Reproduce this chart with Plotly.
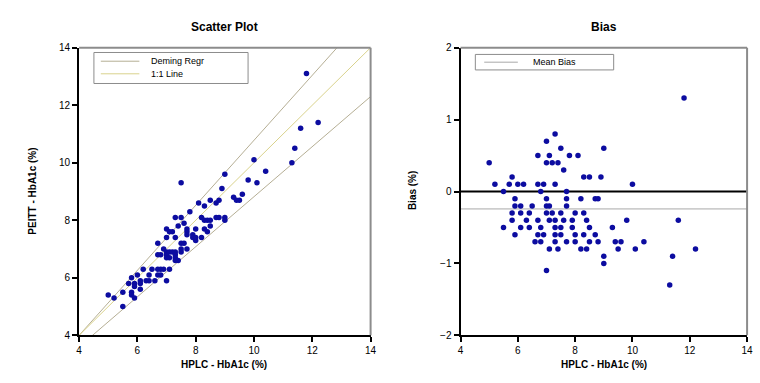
import numpy as np
import plotly.graph_objects as go

# ---- data ----
hplc = [11.8, 7.3, 7.0, 7.5, 9.0, 6.7, 7.1, 7.8, 8.1, 5.0, 7.0, 7.2, 7.4, 7.6,
        5.8, 8.3, 8.5, 8.9, 5.2, 5.7, 6.0, 6.2, 6.7, 6.9, 7.3, 10.0, 5.5, 6.8,
        7.7, 5.9, 7.0, 7.7, 8.2, 8.7, 8.8, 5.9, 6.1, 6.5, 7.0, 7.1, 7.7, 5.8,
        6.1, 6.4, 7.0, 7.2, 7.5, 8.0, 8.3, 5.8, 6.3, 6.7, 7.1, 7.3, 7.6, 7.9,
        8.4, 9.8, 11.6, 5.5, 6.1, 6.4, 6.8, 7.3, 7.5, 7.9, 8.5, 9.3, 5.9, 6.7,
        6.9, 7.3, 7.5, 8.0, 8.3, 8.7, 6.6, 6.8, 7.3, 7.7, 8.0, 8.5, 8.8, 9.4,
        9.6, 10.4, 7.1, 7.4, 8.2, 8.4, 9.5, 10.1, 12.2, 9.0, 11.4, 9.0, 7.0,
        11.3, 7.5]
peitt = [13.1, 8.1, 7.7, 8.1, 9.6, 7.2, 7.6, 8.3, 8.6, 5.4, 7.4, 7.6, 7.8, 7.9,
         6.0, 8.5, 8.7, 9.1, 5.3, 5.8, 6.1, 6.3, 6.8, 7.0, 7.4, 10.1, 5.5, 6.8,
         7.7, 5.8, 6.9, 7.6, 8.1, 8.6, 8.7, 5.7, 5.9, 6.3, 6.8, 6.9, 7.5, 5.5,
         5.8, 6.1, 6.7, 6.9, 7.2, 7.7, 8.0, 5.4, 5.9, 6.3, 6.7, 6.9, 7.2, 7.5,
         8.0, 9.4, 11.2, 5.0, 5.6, 5.9, 6.3, 6.8, 7.0, 7.4, 8.0, 8.8, 5.3, 6.1,
         6.3, 6.7, 6.9, 7.4, 7.7, 8.1, 5.9, 6.1, 6.6, 7.0, 7.3, 7.8, 8.1, 8.7,
         8.9, 9.7, 6.3, 6.6, 7.4, 7.6, 8.7, 9.3, 11.4, 8.1, 10.5, 8.0, 5.9,
         10.0, 9.3]

# reference lines (slope, intercept)
upper_line = (1.13, -0.52)
identity_line = (1.0, 0.0)
lower_line = (0.87, 0.12)

x_ticks = [4, 6, 8, 10, 12, 14]
y_ticks_scatter = [4, 6, 8, 10, 12, 14]
y_ticks_bias = [-2, -1, 0, 1, 2]

legend_left = ["Deming Regr", "1:1 Line"]
legend_right = ["Mean Bias"]

# ---- derived ----
hx = np.array(hplc)
py = np.array(peitt)
bias = np.round(py - hx, 2)
mean_bias = float(np.mean(bias))
line_x = np.array([4.0, 14.0])

W, H = 760, 383
def px(x):
    return x / W
def py_(y):
    return 1 - y / H

FONT = "Liberation Sans, Arial, sans-serif"
MARK = dict(color="#0c0ca0", size=5.5, line=dict(width=0))
LINE_GRAY = "#b5ae94"
LINE_YEL = "#d9d28c"
FRAME_GRAY = "#8c8c8c"

fig = go.Figure()

# --- scatter plot ---
fig.add_trace(go.Scatter(x=line_x, y=upper_line[0] * line_x + upper_line[1], mode="lines",
                         line=dict(color=LINE_GRAY, width=1), name=legend_left[0],
                         showlegend=False, xaxis="x", yaxis="y"))
fig.add_trace(go.Scatter(x=line_x, y=identity_line[0] * line_x + identity_line[1], mode="lines",
                         line=dict(color=LINE_YEL, width=1), name=legend_left[1],
                         showlegend=False, xaxis="x", yaxis="y"))
fig.add_trace(go.Scatter(x=line_x, y=lower_line[0] * line_x + lower_line[1], mode="lines",
                         line=dict(color=LINE_GRAY, width=1), showlegend=False,
                         xaxis="x", yaxis="y"))
fig.add_trace(go.Scatter(x=hx, y=py, mode="markers", marker=MARK, showlegend=False,
                         xaxis="x", yaxis="y"))

# --- bias plot ---
fig.add_trace(go.Scatter(x=line_x, y=[0, 0], mode="lines", line=dict(color="black", width=2),
                         showlegend=False, xaxis="x2", yaxis="y2"))
fig.add_trace(go.Scatter(x=line_x, y=[mean_bias, mean_bias], mode="lines",
                         line=dict(color="#a8a8a8", width=1), name=legend_right[0],
                         showlegend=False, xaxis="x2", yaxis="y2"))
fig.add_trace(go.Scatter(x=hx, y=bias, mode="markers", marker=MARK, showlegend=False,
                         xaxis="x2", yaxis="y2"))

axis_common = dict(showgrid=False, zeroline=False, showline=True, linecolor="black",
                   linewidth=2, ticks="outside", ticklen=5, tickwidth=2, tickcolor="black",
                   tickfont=dict(family=FONT, size=10, color="black"), mirror=False)

ydom = [py_(340), py_(43)]
fig.update_layout(
    width=W, height=H,
    margin=dict(l=0, r=0, t=0, b=0),
    paper_bgcolor="white", plot_bgcolor="white",
    font=dict(family=FONT, color="black"),
    showlegend=False,
    xaxis=dict(domain=[px(77), px(372)], range=[4, 14], tickvals=x_ticks, anchor="y", **axis_common),
    yaxis=dict(domain=ydom, range=[4, 14], tickvals=y_ticks_scatter, anchor="x", **axis_common),
    xaxis2=dict(domain=[px(463), px(753)], range=[4, 14], tickvals=x_ticks, anchor="y2", **axis_common),
    yaxis2=dict(domain=ydom, range=[-2, 2], tickvals=y_ticks_bias, anchor="x2", **axis_common),
)

# frame (top/right gray)
for xd, yd in (("x domain", "y domain"), ("x2 domain", "y2 domain")):
    fig.add_shape(type="line", xref=xd, yref=yd, x0=0, x1=1, y0=1, y1=1,
                  line=dict(color=FRAME_GRAY, width=2), layer="above")
    fig.add_shape(type="line", xref=xd, yref=yd, x0=1, x1=1, y0=0, y1=1,
                  line=dict(color=FRAME_GRAY, width=2), layer="above")

# legend boxes (drawn as shapes + text)
fig.add_shape(type="rect", xref="paper", yref="paper",
              x0=px(92), x1=px(248), y0=py_(80), y1=py_(48),
              line=dict(color=FRAME_GRAY, width=1), fillcolor="white", layer="above")
fig.add_shape(type="rect", xref="paper", yref="paper",
              x0=px(478), x1=px(618), y0=py_(66), y1=py_(50),
              line=dict(color=FRAME_GRAY, width=1), fillcolor="white", layer="above")
legend_rows = [
    (legend_left[0], LINE_GRAY, 99, 138, 148, 57),
    (legend_left[1], LINE_YEL, 99, 138, 148, 70),
    (legend_right[0], "#a8a8a8", 487, 521, 534, 58),
]
for label, col, lx0, lx1, tx, ty in legend_rows:
    fig.add_shape(type="line", xref="paper", yref="paper", x0=px(lx0), x1=px(lx1),
                  y0=py_(ty), y1=py_(ty), line=dict(color=col, width=1), layer="above")
    fig.add_annotation(text=label, x=px(tx), y=py_(ty), xref="paper", yref="paper",
                       showarrow=False, xanchor="left", yanchor="middle",
                       font=dict(family=FONT, size=9, color="black"))

# titles
ann = [
    dict(text="<b>Scatter Plot</b>", x=224, y=22, size=12),
    dict(text="<b>Bias</b>", x=608, y=22, size=12),
    dict(text="<b>HPLC - HbA1c (%)</b>", x=224, y=370, size=10),
    dict(text="<b>HPLC - HbA1c (%)</b>", x=608, y=370, size=10),
]
for a in ann:
    fig.add_annotation(text=a["text"], x=px(a["x"]), y=py_(a["y"]), xref="paper", yref="paper",
                       showarrow=False, xanchor="center", yanchor="middle",
                       font=dict(family=FONT, size=a["size"], color="black"))
fig.add_annotation(text="<b>PEITT - HbA1c (%)</b>", x=px(29), y=py_(191), xref="paper",
                   yref="paper", showarrow=False, textangle=-90, xanchor="center",
                   yanchor="middle", font=dict(family=FONT, size=10, color="black"))
fig.add_annotation(text="<b>Bias (%)</b>", x=px(414), y=py_(191), xref="paper",
                   yref="paper", showarrow=False, textangle=-90, xanchor="center",
                   yanchor="middle", font=dict(family=FONT, size=10, color="black"))

fig.write_html("out.html", config={"displayModeBar": False},
               post_script="document.body.style.margin='0';document.body.style.padding='0';document.body.style.overflow='hidden';")
